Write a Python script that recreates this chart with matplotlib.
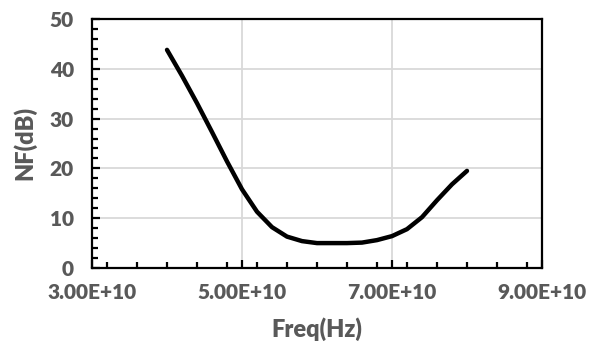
import matplotlib
matplotlib.use("Agg")
import matplotlib.pyplot as plt
from matplotlib.ticker import MultipleLocator

freq = [4.0e10, 4.2e10, 4.4e10, 4.6e10, 4.8e10, 5.0e10, 5.2e10, 5.4e10, 5.6e10, 5.8e10,
        6.0e10, 6.2e10, 6.4e10, 6.6e10, 6.8e10, 7.0e10, 7.2e10, 7.4e10, 7.6e10, 7.8e10, 8.0e10]
nf = [43.8, 38.6, 33.1, 27.3, 21.4, 15.8, 11.3, 8.2, 6.3, 5.4,
      5.0, 5.0, 5.0, 5.1, 5.6, 6.4, 7.8, 10.2, 13.6, 16.8, 19.5]

x_ticks = [3e10, 5e10, 7e10, 9e10]
x_labels = ["3.00E+10", "5.00E+10", "7.00E+10", "9.00E+10"]
y_ticks = [0, 10, 20, 30, 40, 50]

plt.rcParams['font.family'] = ['Lato', 'DejaVu Sans']
gray = "#595959"

fig = plt.figure(figsize=(6.03, 3.49), dpi=100)
ax = fig.add_axes([0.1526, 0.2321, 0.7462, 0.7135])

ax.plot(freq, nf, color="black", lw=3.2, solid_joinstyle="round", solid_capstyle="round", zorder=3)

ax.set_xlim(3e10, 9e10)
ax.set_ylim(0, 50)
ax.set_xticks(x_ticks)
ax.set_xticklabels(x_labels)
ax.set_yticks(y_ticks)
ax.xaxis.set_minor_locator(MultipleLocator(0.4e10))
ax.yaxis.set_minor_locator(MultipleLocator(2))

ax.grid(True, which="major", color="#d9d9d9", lw=1.3, zorder=0)
ax.set_axisbelow(True)

for s in ax.spines.values():
    s.set_linewidth(1.6)
    s.set_color("black")

ax.tick_params(axis="both", which="major", direction="in", length=6, width=1.6,
               labelsize=15, labelcolor=gray)
ax.tick_params(axis="both", which="minor", direction="in", length=4, width=1.6)
ax.tick_params(axis="x", which="both", top=False, pad=11)
ax.tick_params(axis="y", which="both", right=False, pad=13)
for lab in ax.get_xticklabels() + ax.get_yticklabels():
    lab.set_fontweight("heavy")

ax.set_xlabel("Freq(Hz)", fontsize=17, fontweight="heavy", color=gray, labelpad=11)
ax.set_ylabel("NF(dB)", fontsize=17, fontweight="heavy", color=gray, labelpad=10)

fig.savefig("out.png", dpi=100)
